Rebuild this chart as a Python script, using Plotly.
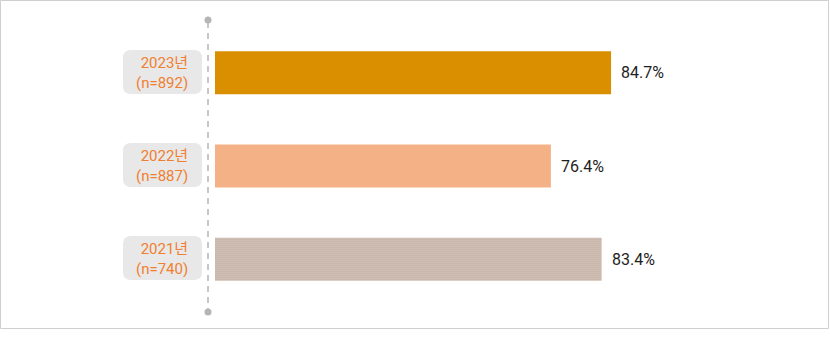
import re
import plotly.graph_objects as go

years = ["2021년", "2022년", "2023년"]
samples = ["(n=740)", "(n=887)", "(n=892)"]
values = [83.4, 76.4, 84.7]
colors = ["#dcc8bc", "#f5b186", "#d98f00"]

W, H = 830, 341
ML, MR, MT, MB = 215, 50, 26, 35
PW = W - ML - MR
PH = H - MT - MB

def px_x(x):
    return (x - ML) / PW

def px_y(y):
    return 1 - (y - MT) / PH

fig = go.Figure()
fig.add_trace(go.Bar(
    y=years, x=values, orientation="h", base=0,
    marker=dict(color=colors, line=dict(width=0),
                pattern=dict(shape=[".", "", ""], fgcolor="#d2bbaf",
                             size=2, solidity=0.25, fillmode="overlay")),
    width=0.46, hoverinfo="skip",
))

shapes = []
shapes.append(dict(type="rect", xref="paper", yref="paper",
                   x0=px_x(0.5), x1=px_x(828.5), y0=px_y(0.5), y1=px_y(328.5),
                   line=dict(color="#cfcfcf", width=1), layer="below"))
ax = 208
shapes.append(dict(type="line", xref="paper", yref="paper",
                   x0=px_x(ax), x1=px_x(ax), y0=px_y(22), y1=px_y(311),
                   line=dict(color="#b5b5b5", width=1.5, dash="6px,5px")))
for cy in (20, 312):
    shapes.append(dict(type="circle", xref="paper", yref="paper",
                       x0=px_x(ax - 3.5), x1=px_x(ax + 3.5), y0=px_y(cy - 3.5), y1=px_y(cy + 3.5),
                       fillcolor="#b5b5b5", line=dict(width=0)))

annotations = []
centers = {"2023년": 72, "2022년": 165, "2021년": 258}

def conv(m):
    px, py = float(m.group(1)), float(m.group(2))
    return f"{px_x(px):.5f},{px_y(py):.5f}"

for yr, n, v in zip(years, samples, values):
    cy = centers[yr]
    x0, x1, y0, y1, r = 123, 202, cy - 22, cy + 22, 8
    path = (f"M {x0+r},{y0} L {x1-r},{y0} Q {x1},{y0} {x1},{y0+r} L {x1},{y1-r} "
            f"Q {x1},{y1} {x1-r},{y1} L {x0+r},{y1} Q {x0},{y1} {x0},{y1-r} "
            f"L {x0},{y0+r} Q {x0},{y0} {x0+r},{y0} Z")
    ppath = re.sub(r"([\d.]+),([\d.]+)", conv, path)
    shapes.append(dict(type="path", xref="paper", yref="paper", path=ppath,
                       fillcolor="#e8e8e8", line=dict(width=0), layer="below"))
    annotations.append(dict(xref="paper", yref="paper", x=px_x(190), y=px_y(cy + 1),
                            xanchor="right", yanchor="middle", align="right",
                            text=f"{yr}<br>{n}", showarrow=False,
                            font=dict(size=15, color="#f07f30")))
    annotations.append(dict(xref="x", yref="y", x=v, y=yr, xanchor="left", xshift=8,
                            yanchor="middle", text=f"{v:.1f}%", showarrow=False,
                            font=dict(size=16, color="#1e1e1e")))

fig.update_layout(
    width=W, height=H,
    margin=dict(l=ML, r=MR, t=MT, b=MB),
    paper_bgcolor="white", plot_bgcolor="white",
    font=dict(family="Roboto, 'Noto Sans CJK KR', sans-serif"),
    showlegend=False,
    xaxis=dict(range=[30.07, 30.07 + PW / 7.25], visible=False, fixedrange=True),
    yaxis=dict(categoryorder="array", categoryarray=years, range=[-0.5, 2.5],
               showticklabels=False, showgrid=False, zeroline=False, showline=False,
               ticks="", fixedrange=True),
    shapes=shapes, annotations=annotations,
)

fig.write_html("out.html")
